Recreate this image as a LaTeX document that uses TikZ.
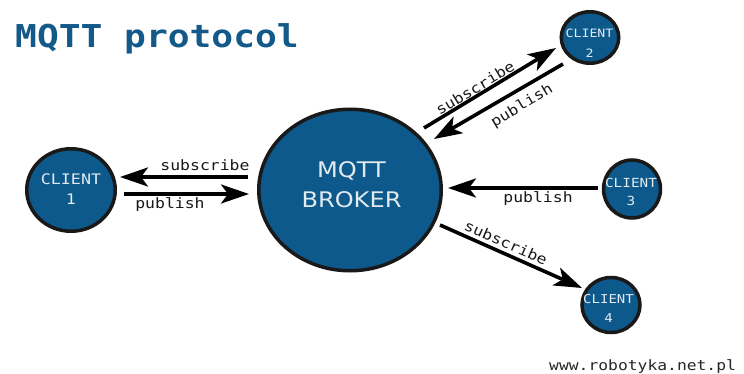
\documentclass[tikz,border=0pt]{standalone}
\usepackage{fontspec}
\setmainfont{DejaVu Sans}[FakeStretch=1.12]
\newfontfamily\monof{DejaVu Sans Mono}[FakeStretch=1.15]
\usetikzlibrary{arrows.meta,shapes.geometric}
\definecolor{nodeblue}{RGB}{13,89,140}
\definecolor{titleblue}{RGB}{19,90,138}
\definecolor{lighttext}{RGB}{226,234,240}
\definecolor{edgecol}{RGB}{25,25,25}
\tikzset{
  bubble/.style={ellipse, draw=edgecol, line width=3.5pt, fill=nodeblue, inner sep=0pt},
  ctext/.style={align=center, text=lighttext, inner sep=0pt},
  arr/.style={line width=3.6pt, draw=black, -{Stealth[length=28pt,width=19pt,inset=7pt]}},
  lbl/.style={font=\monof\fontsize{14.3}{16}\selectfont, text=black!90, inner sep=0pt}
}
\begin{document}
\begin{tikzpicture}[x=1pt,y=-1pt]
\path[use as bounding box, fill=white] (0,0) rectangle (744,374);

% title
\node[font=\monof\bfseries\fontsize{31.5}{36}\selectfont, text=titleblue, anchor=base west, inner sep=0pt] (title) at (15,47.5) {MQTT protocol};

% nodes
\node[bubble, minimum width=182.5pt, minimum height=161.5pt] (broker) at (350,190) {};
\node[ctext, font=\fontsize{21.5}{30}\selectfont] (brokertext) at (351.5,184.2) {MQTT\\BROKER};

\node[bubble, minimum width=88.5pt, minimum height=82.5pt] (c1) at (71,190) {};
\node[ctext, font=\monof\fontsize{14.5}{20}\selectfont] (c1t) at (71,188.8) {CLIENT\\1};

\node[bubble, minimum width=57.5pt, minimum height=51.5pt] (c2) at (590,37.5) {};
\node[ctext, font=\monof\fontsize{11.5}{20}\selectfont] (c2t) at (589.5,42.8) {CLIENT\\2};

\node[bubble, minimum width=57pt, minimum height=58pt] (c3) at (632,189) {};
\node[ctext, font=\monof\fontsize{12.5}{18}\selectfont] (c3t) at (631,191.5) {CLIENT\\3};

\node[bubble, minimum width=58pt, minimum height=55pt] (c4) at (611,305) {};
\node[ctext, font=\monof\fontsize{12.2}{19}\selectfont] (c4t) at (608.5,308) {CLIENT\\4};

% connector end points
\coordinate (b1s) at (248,177); \coordinate (c1s) at (120,177);
\coordinate (c1p) at (124,194); \coordinate (b1p) at (249,194);
\coordinate (b2s) at (424,128); \coordinate (c2s) at (556,48);
\coordinate (c2p) at (563,64);  \coordinate (b2p) at (434,139);
\coordinate (c3p) at (598,188); \coordinate (b3p) at (448,188);
\coordinate (b4s) at (440,225); \coordinate (c4s) at (582,288);

% connectors
\draw[arr] (b1s) -- (c1s);
\draw[arr] (c1p) -- (b1p);
\draw[arr] (b2s) -- (c2s);
\draw[arr] (c2p) -- (b2p);
\draw[arr] (c3p) -- (b3p);
\draw[arr] (b4s) -- (c4s);

% labels
\node[lbl, anchor=base] (l1s) at (205,171) {subscribe};
\node[lbl, anchor=base] (l1p) at (170,208) {publish};
\node[lbl, rotate=31] (l2s) at (475,88) {subscribe};
\node[lbl, rotate=31] (l2p) at (522,106) {publish};
\node[lbl, anchor=base] (l3p) at (538,203) {publish};
\node[lbl, rotate=-24] (l4s) at (506,243) {subscribe};

% footer
\node[font=\monof\fontsize{14.2}{16}\selectfont, text=black!85, anchor=base west, inner sep=0pt] (web) at (549,370) {www.robotyka.net.pl};
\end{tikzpicture}
\end{document}
